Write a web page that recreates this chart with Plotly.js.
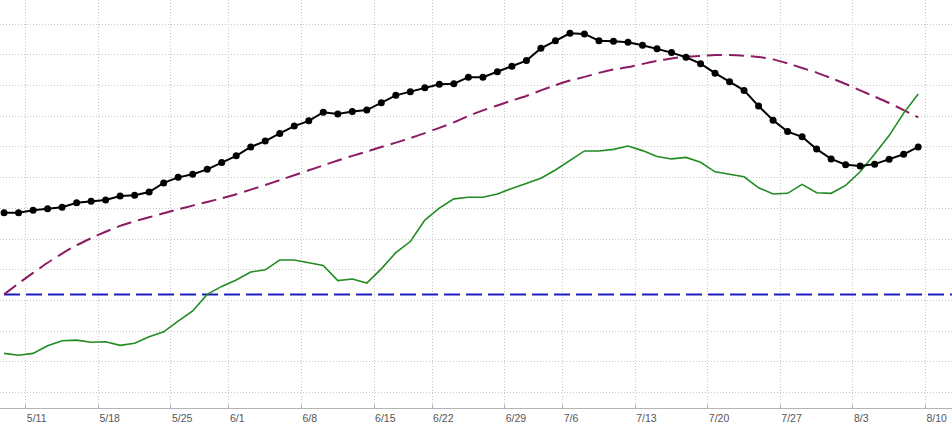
<!DOCTYPE html>
<html><head><meta charset="utf-8">
<script src="https://cdn.plot.ly/plotly-3.0.1.min.js"></script>
<style>html,body{margin:0;padding:0;background:#fff;overflow:hidden}#chart{width:952px;height:425px}</style>
</head><body><div id="chart"></div>
<script>
// Trading days (x categories)
const tradingDays = ['5/7','5/8','5/11','5/12','5/13','5/14','5/15','5/18','5/19','5/20','5/21','5/22',
  '5/26','5/27','5/28','5/29','6/1','6/2','6/3','6/4','6/5','6/8','6/9','6/10','6/11','6/12',
  '6/15','6/16','6/17','6/18','6/22','6/23','6/24','6/25','6/26','6/29','6/30','7/1','7/2',
  '7/6','7/7','7/8','7/9','7/10','7/13','7/14','7/15','7/16','7/17','7/20','7/21','7/22','7/23','7/24',
  '7/27','7/28','7/29','7/30','7/31','8/3','8/4','8/5','8/6','8/7'];

// Black series with markers
const price = [58.6,58.6,59.4,59.9,60.4,61.8,62.3,62.7,64.0,64.3,65.3,68.3,70.1,71.1,72.7,74.9,
  77.1,80.0,81.9,84.4,86.8,88.5,91.3,90.7,91.5,92.0,94.4,96.8,98.0,99.3,100.4,100.6,102.7,102.7,
  104.5,106.3,108.1,112.1,114.6,117.0,116.8,114.6,114.4,114.1,113.1,112.0,110.7,109.2,107.1,104.0,
  101.2,98.4,93.3,88.7,85.0,83.3,79.3,76.1,74.2,73.8,74.4,76.0,77.6,80.0];

// Purple dashed series
const smoothLine = [32.0,35.6,39.0,42.3,45.3,48.0,50.3,52.4,54.3,55.8,57.1,58.4,59.7,60.9,62.1,63.3,
  64.6,66.1,67.6,69.2,70.8,72.4,74.0,75.6,77.1,78.5,80.0,81.4,82.9,84.5,86.2,88.0,90.1,91.9,93.5,
  95.1,96.6,98.4,100.1,101.6,102.8,104.1,105.2,106.0,107.0,108.0,108.8,109.4,109.6,109.9,109.9,
  109.7,109.3,108.5,107.2,105.7,104.2,102.4,100.5,98.4,96.4,94.3,92.0,89.6];

// Green series
const greenLine = [12.8,12.2,12.8,15.3,16.9,17.1,16.4,16.6,15.4,16.1,18.2,19.8,23.3,26.6,32.0,34.6,
  36.7,39.3,40.0,43.2,43.2,42.3,41.4,36.5,37.0,35.7,40.3,45.6,49.2,56.2,60.1,63.1,63.6,63.6,64.7,
  66.5,68.2,69.8,72.5,75.5,78.7,78.7,79.2,80.3,78.8,76.9,76.1,76.6,75.0,71.9,71.2,70.3,66.7,64.7,
  64.9,67.8,65.1,64.9,67.5,71.9,77.7,83.7,91.0,97.2];

// Blue dashed constant level
const baselineValue = 32.0;

// Weekly tick labels (Mondays)
const tickLabels = ['5/11','5/18','5/25','6/1','6/8','6/15','6/22','6/29','7/6','7/13','7/20','7/27','8/3','8/10'];

const md = s => { const p = s.split('/'); return (+p[0]) * 100 + (+p[1]); };
const xIdx = tradingDays.map((d, i) => i);
const tickVals = tickLabels.map(lbl => {
  let k = tradingDays.findIndex(d => md(d) >= md(lbl));
  if (k < 0) k = tradingDays.length;
  return k - 0.5;
});

const xRange = [-0.28, 65.33];
const yRange = [-4.98, 127.83];

const traces = [
  {x: [0, xRange[1]], y: [baselineValue, baselineValue], mode: 'lines',
   line: {color: '#1c1cbe', width: 2, dash: '16px,6px'}, hoverinfo: 'skip'},
  {x: xIdx, y: smoothLine, mode: 'lines', text: tradingDays,
   line: {color: '#8b1c62', width: 2, dash: '15px,7px', shape: 'spline', smoothing: 0.6}},
  {x: xIdx, y: greenLine, mode: 'lines', text: tradingDays,
   line: {color: '#228b22', width: 1.6}},
  {x: xIdx, y: price, mode: 'lines+markers', text: tradingDays,
   line: {color: '#000000', width: 2}, marker: {color: '#000000', size: 7}}
];

const gridColor = '#c8c8c8';
const layout = {
  width: 952, height: 425,
  margin: {l: 0, r: 0, t: 0, b: 17, pad: 0},
  paper_bgcolor: '#ffffff', plot_bgcolor: '#ffffff',
  showlegend: false,
  xaxis: {
    range: xRange, tickmode: 'array', tickvals: tickVals, ticktext: tickLabels,
    ticklabelposition: 'outside right',
    showgrid: true, gridcolor: gridColor, griddash: '1px,2px', gridwidth: 1,
    showline: true, linecolor: '#b4b4b4', linewidth: 1,
    ticks: 'inside', ticklen: 4, tickcolor: '#b4b4b4',
    zeroline: false,
    tickfont: {family: 'Liberation Sans, Arial, sans-serif', size: 10.5, color: '#555555'}
  },
  yaxis: {
    range: yRange, tick0: 0, dtick: 10, showticklabels: false,
    showgrid: true, gridcolor: gridColor, griddash: '1px,2px', gridwidth: 1,
    zeroline: false, showline: false, ticks: ''
  }
};

Plotly.newPlot('chart', traces, layout, {staticPlot: true, displayModeBar: false});
</script>
</body></html>
